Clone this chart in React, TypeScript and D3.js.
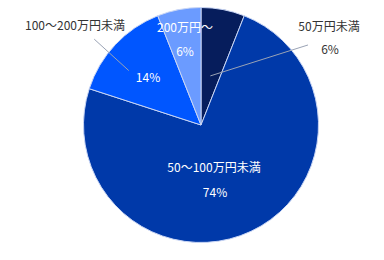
import React from "react";
import * as d3 from "d3";

const categories = ["50万円未満", "50～100万円未満", "100～200万円未満", "200万円～"];
const values = [6, 74, 14, 6];
const colors = ["#061d5c", "#0039a9", "#0056ff", "#6b9bff"];
const valueLabels = ["6%", "74%", "14%", "6%"];
// label anchor offsets from pie center (name line, value line)
const labelPos: [number, number][] = [[128, -100], [13, 41], [-126, -101], [-16, -99]];
const valuePos: [number, number][] = [[129, -77], [14, 66], [-53, -49], [-16, -75]];
const nameOutside = [true, false, true, false];
const valueOutside = [true, false, false, false];
// leader lines: [innerR, innerAngleDeg, outerR, outerAngleDeg]
const leaders: ([number, number, number, number] | null)[] = [
  [50, 10.8, 133.6, 53.2],
  null,
  [90.5, 307, 137, 308.8],
  null,
];

const W = 384;
const H = 260;
const cx = 201;
const cy = 125;
const R = 117.5;

function polar(r: number, deg: number): [number, number] {
  const a = (deg * Math.PI) / 180;
  return [cx + r * Math.sin(a), cy - r * Math.cos(a)];
}

export default function App() {
  const pie = d3.pie<number>().sort(null).value((d) => d);
  const arcs = pie(values);
  const arc = d3.arc<d3.PieArcDatum<number>>().innerRadius(0).outerRadius(R);
  const font = "'Noto Sans CJK JP', 'Noto Sans', sans-serif";
  const dark = "#333333";
  return (
    <svg width={W} height={H} style={{ position: "absolute", left: 0, top: 0 }}>
      <rect width={W} height={H} fill="#fff" />
      <g transform={`translate(${cx},${cy})`}>
        {arcs.map((a, i) => (
          <path key={i} d={arc(a) || ""} fill={colors[i]} stroke="#c9d6f5" strokeWidth={1} />
        ))}
      </g>
      {leaders.map((l, i) => {
        if (!l) return null;
        const [x1, y1] = polar(l[0], l[1]);
        const [x2, y2] = polar(l[2], l[3]);
        return <line key={i} x1={x1} y1={y1} x2={x2} y2={y2} stroke="#9aa3b5" strokeWidth={1} />;
      })}
      {categories.map((c, i) => (
        <g key={i} fontFamily={font} fontSize={12} textAnchor="middle">
          <text x={cx + labelPos[i][0]} y={cy + labelPos[i][1]} dominantBaseline="central" fill={nameOutside[i] ? dark : "#fff"}>{c}</text>
          <text x={cx + valuePos[i][0]} y={cy + valuePos[i][1]} dominantBaseline="central" fill={valueOutside[i] ? dark : "#fff"}>{valueLabels[i]}</text>
        </g>
      ))}
    </svg>
  );
}
